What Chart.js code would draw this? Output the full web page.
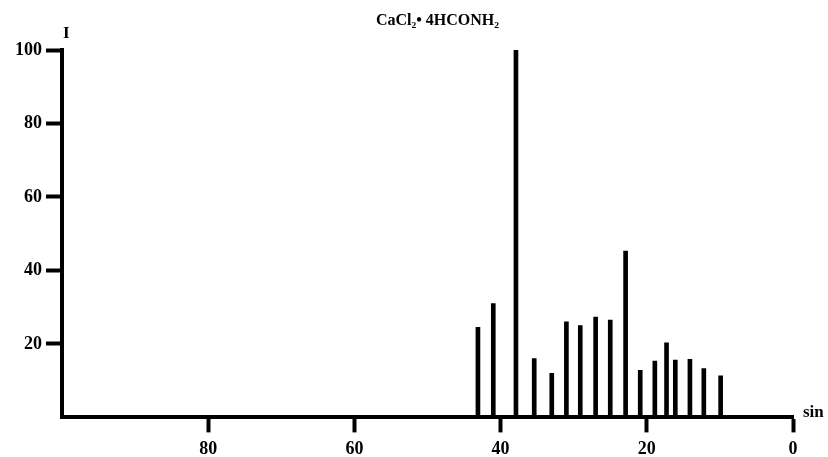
<!DOCTYPE html>
<html>
<head>
<meta charset="utf-8">
<script src="https://cdn.jsdelivr.net/npm/chart.js@4.4.0/dist/chart.umd.min.js"></script>
<style>
  body { margin: 0; background: #fff; }
  #wrap { width: 828px; height: 457px; position: relative; }
</style>
</head>
<body>
<div id="wrap"><canvas id="c"></canvas></div>
<script>
// peak positions and intensities
const positions = [43.1, 41.0, 37.9, 35.4, 33.0, 31.0, 29.1, 27.0, 25.0, 22.9, 20.9, 18.9, 17.3, 16.1, 14.1, 12.2, 9.9];
const intensities = [24.5, 31, 100, 16, 12, 26, 25, 27.3, 26.5, 45.3, 12.8, 15.3, 20.3, 15.6, 15.8, 13.3, 11.3];
const xTicks = [80, 60, 40, 20, 0];
const yTicks = [20, 40, 60, 80, 100];
const title = "CaCl\u2082\u2022 4HCONH\u2082";

const font = { family: "'Liberation Serif', 'Times New Roman', serif", size: 18, weight: "bold" };

const labelsPlugin = {
  id: "labels",
  afterDraw(chart) {
    const { ctx, chartArea } = chart;
    ctx.save();
    ctx.fillStyle = "#000";
    ctx.font = "bold 16px 'Liberation Serif', serif";
    ctx.textAlign = "center";
    ctx.textBaseline = "middle";
    ctx.fillText(title, (chartArea.left + chartArea.right) / 2 + 10, 21);
    ctx.font = "bold 17px 'Liberation Serif', serif";
    ctx.textAlign = "left";
    ctx.fillText("I", chartArea.left + 1, chartArea.top - 16);
    ctx.fillText("sin", chartArea.right + 10, chartArea.bottom - 5);
    ctx.restore();
  },
};

new Chart(document.getElementById("c"), {
  type: "bar",
  data: {
    datasets: [{
      data: positions.map((x, i) => ({ x, y: intensities[i] })),
      backgroundColor: "#000",
      barThickness: 4,
    }],
  },
  options: {
    responsive: true,
    maintainAspectRatio: false,
    animation: false,
    layout: { padding: { top: 50, right: 35, left: 11, bottom: -9 } },
    plugins: { legend: { display: false }, tooltip: { enabled: false } },
    scales: {
      x: {
        type: "linear",
        reverse: true,
        offset: false,
        min: 0,
        max: 100,
        afterBuildTicks: (s) => { s.ticks = xTicks.map((v) => ({ value: v })); },
        ticks: { color: "#000", font, padding: 6, maxRotation: 0 },
        grid: { offset: false, drawOnChartArea: false, tickLength: 15, tickWidth: 4, color: "#000" },
        border: { width: 4, color: "#000" },
      },
      y: {
        min: 0,
        max: 100,
        afterBuildTicks: (s) => { s.ticks = yTicks.map((v) => ({ value: v })); },
        ticks: { color: "#000", font, padding: 4 },
        grid: { drawOnChartArea: false, tickLength: 16, tickWidth: 4, color: "#000" },
        border: { width: 4, color: "#000" },
      },
    },
  },
  plugins: [labelsPlugin],
});
</script>
</body>
</html>
